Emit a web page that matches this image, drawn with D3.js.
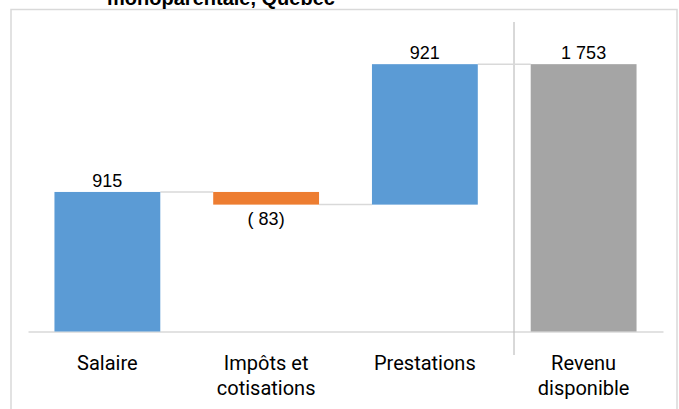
<!DOCTYPE html>
<html>
<head>
<meta charset="utf-8">
<script src="https://cdn.jsdelivr.net/npm/d3@7"></script>
<style>
  html, body { margin: 0; padding: 0; background: #fff; }
  svg { display: block; }
</style>
</head>
<body>
<svg id="chart" width="679" height="409"></svg>
<script>
// Waterfall: disposable income build-up, single-parent family, Québec
const categories = ["Salaire", "Impôts et cotisations", "Prestations", "Revenu disponible"];
const values = [915, -83, 921, 1753];
const kinds = ["delta", "delta", "delta", "total"];
const titleLine = "monoparentale, Québec";
const colors = { up: "#5B9BD5", down: "#ED7D31", total: "#A5A5A5" };

const W = 679, H = 409;
const plot = { left: 28, right: 663, top: 26.5, bottom: 331.5 };

const svg = d3.select("#chart");

// French number format: space as thousands separator, negatives in parentheses
const fr = d3.formatLocale({ decimal: ",", thousands: " ", grouping: [3], currency: ["", " $"] });
const fmtNum = fr.format(",d");
const fmt = v => v < 0 ? "( " + fmtNum(-v) + ")" : fmtNum(v);

// running totals for the floating bars
let cum = 0;
const bars = categories.map((c, i) => {
  const v = values[i];
  let start, end;
  if (kinds[i] === "total") { start = 0; end = v; cum = v; }
  else { start = cum; end = cum + v; cum = end; }
  const color = kinds[i] === "total" ? colors.total : (v < 0 ? colors.down : colors.up);
  return { cat: c, value: v, start, end, color, kind: kinds[i] };
});

const x = d3.scaleBand().domain(categories)
  .range([plot.left, plot.right]).paddingInner(1 / 3).paddingOuter(1 / 6);
const y = d3.scaleLinear().domain([0, 2000]).range([plot.bottom, plot.top]);

// outer frame
svg.append("rect")
  .attr("x", 11).attr("y", 9.5).attr("width", 666).attr("height", 420)
  .attr("fill", "none").attr("stroke", "#D9D9D9").attr("stroke-width", 1.5);

// title (second line of the heading)
svg.append("text")
  .attr("x", 221).attr("y", 5)
  .attr("text-anchor", "middle")
  .attr("font-family", "Liberation Sans, Arial, sans-serif")
  .attr("font-weight", "bold").attr("font-size", 20)
  .attr("fill", "#000")
  .text(titleLine);

// category axis
const axis = svg.append("g")
  .attr("transform", `translate(0,${plot.bottom})`)
  .call(d3.axisBottom(x).tickSize(0).tickFormat(""));
axis.select(".domain").attr("stroke", "#D9D9D9").attr("stroke-width", 1.5);

axis.selectAll(".tick").each(function (d) {
  const t = d3.select(this).select("text");
  t.text(null)
    .attr("y", 0).attr("dy", null)
    .attr("font-family", "Roboto, sans-serif")
    .attr("font-size", 20).attr("fill", "#000");
  const sp = d.lastIndexOf(" ");
  const lines = sp > 0 ? [d.slice(0, sp), d.slice(sp + 1)] : [d];
  lines.forEach((ln, k) => {
    t.append("tspan").attr("x", 0).attr("y", 38.5 + k * 25).text(ln);
  });
});

// separator before the total column
const sepX = x(categories[3]) - 16.7;
svg.append("line")
  .attr("x1", sepX).attr("x2", sepX)
  .attr("y1", 22).attr("y2", 355)
  .attr("stroke", "#BFBFBF").attr("stroke-width", 1.2);

// connectors between consecutive bars
const conn = [];
for (let i = 0; i < bars.length - 1; i++) {
  conn.push({ x1: x(bars[i].cat) + x.bandwidth(), x2: x(bars[i + 1].cat), v: bars[i].end });
}
svg.append("g").selectAll("line").data(conn).join("line")
  .attr("x1", d => d.x1).attr("x2", d => d.x2)
  .attr("y1", d => y(d.v)).attr("y2", d => y(d.v))
  .attr("stroke", "#D9D9D9").attr("stroke-width", 1.5);

// bars
svg.append("g").selectAll("rect").data(bars).join("rect")
  .attr("x", d => x(d.cat))
  .attr("width", x.bandwidth())
  .attr("y", d => y(Math.max(d.start, d.end)))
  .attr("height", d => Math.abs(y(d.start) - y(d.end)))
  .attr("fill", d => d.color);

// value labels: above rising bars, below falling ones
svg.append("g").selectAll("text").data(bars).join("text")
  .attr("x", d => x(d.cat) + x.bandwidth() / 2)
  .attr("y", d => d.value < 0 ? y(Math.min(d.start, d.end)) + 20 : y(Math.max(d.start, d.end)) - 5)
  .attr("text-anchor", "middle")
  .attr("font-family", "Liberation Sans, Arial, sans-serif")
  .attr("font-size", 18).attr("fill", "#000")
  .text(d => fmt(d.value));
</script>
</body>
</html>
